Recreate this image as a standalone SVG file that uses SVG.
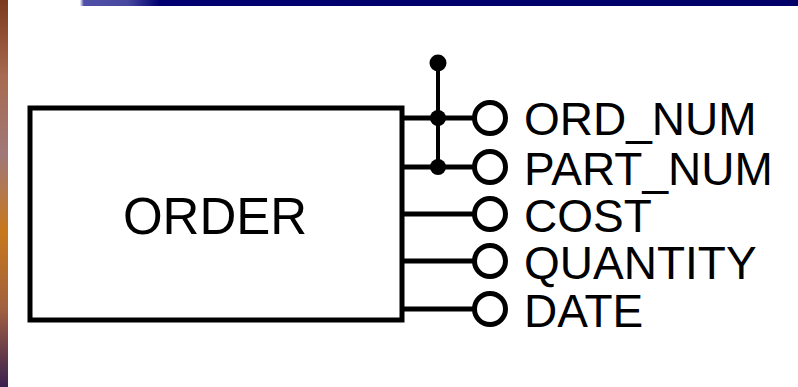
<svg xmlns="http://www.w3.org/2000/svg" width="798" height="387" viewBox="0 0 798 387">
  <defs>
    <linearGradient id="leftStrip" x1="0" y1="0" x2="0" y2="1">
      <stop offset="0" stop-color="#7a3a20"/>
      <stop offset="0.2" stop-color="#a86a50"/>
      <stop offset="0.4" stop-color="#a07878"/>
      <stop offset="0.6" stop-color="#c8781c"/>
      <stop offset="0.8" stop-color="#a06040"/>
      <stop offset="1" stop-color="#3a2050"/>
    </linearGradient>
    <linearGradient id="topStrip" x1="0" y1="0" x2="1" y2="0">
      <stop offset="0" stop-color="#ffffff"/>
      <stop offset="0.1" stop-color="#ffffff"/>
      <stop offset="0.105" stop-color="#5050a8"/>
      <stop offset="0.16" stop-color="#4848a0"/>
      <stop offset="0.2" stop-color="#000070"/>
      <stop offset="1" stop-color="#000068"/>
    </linearGradient>
  </defs>
  <style>
    .box { fill: #ffffff; stroke: #000000; stroke-width: 5; }
    .wire { stroke: #000000; stroke-width: 5; fill: none; }
    .key { stroke: #000000; stroke-width: 4; fill: none; }
    .dot { fill: #000000; }
    .ring { fill: #ffffff; stroke: #000000; stroke-width: 5; }
    .lbl { font-family: "Liberation Sans", Arial, sans-serif; font-size: 46px; fill: #000000; }
    .title { font-family: "Liberation Sans", Arial, sans-serif; font-size: 51px; fill: #000000; }
  </style>
  <rect x="0" y="0" width="798" height="387" fill="#ffffff"/>
  <rect x="0" y="0" width="798" height="6" fill="url(#topStrip)"/>
  <rect x="0" y="0" width="8" height="387" fill="url(#leftStrip)"/>

  <g id="connectors">
    <line class="wire" x1="402" y1="118" x2="476" y2="118"/>
    <line class="wire" x1="402" y1="167" x2="476" y2="167"/>
    <line class="wire" x1="402" y1="214" x2="476" y2="214"/>
    <line class="wire" x1="402" y1="261" x2="476" y2="261"/>
    <line class="wire" x1="402" y1="309" x2="476" y2="309"/>
    <line class="key" x1="438" y1="63" x2="438" y2="167"/>
    <circle class="dot" cx="438" cy="63" r="8.5"/>
    <circle class="dot" cx="438" cy="118" r="8"/>
    <circle class="dot" cx="438" cy="167" r="8"/>
  </g>

  <g id="order">
    <rect class="box" x="30" y="108" width="372" height="212"/>
    <text class="title" x="215" y="234" text-anchor="middle">ORDER</text>
  </g>

  <g id="ord_num">
    <circle class="ring" cx="490" cy="118" r="15.5"/>
    <text class="lbl" x="524" y="135">ORD_NUM</text>
  </g>
  <g id="part_num">
    <circle class="ring" cx="490" cy="167" r="15.5"/>
    <text class="lbl" x="524" y="185">PART_NUM</text>
  </g>
  <g id="cost">
    <circle class="ring" cx="490" cy="214" r="15.5"/>
    <text class="lbl" x="524" y="232">COST</text>
  </g>
  <g id="quantity">
    <circle class="ring" cx="490" cy="261" r="15.5"/>
    <text class="lbl" x="524" y="279">QUANTITY</text>
  </g>
  <g id="date">
    <circle class="ring" cx="490" cy="309" r="15.5"/>
    <text class="lbl" x="524" y="327">DATE</text>
  </g>
</svg>
